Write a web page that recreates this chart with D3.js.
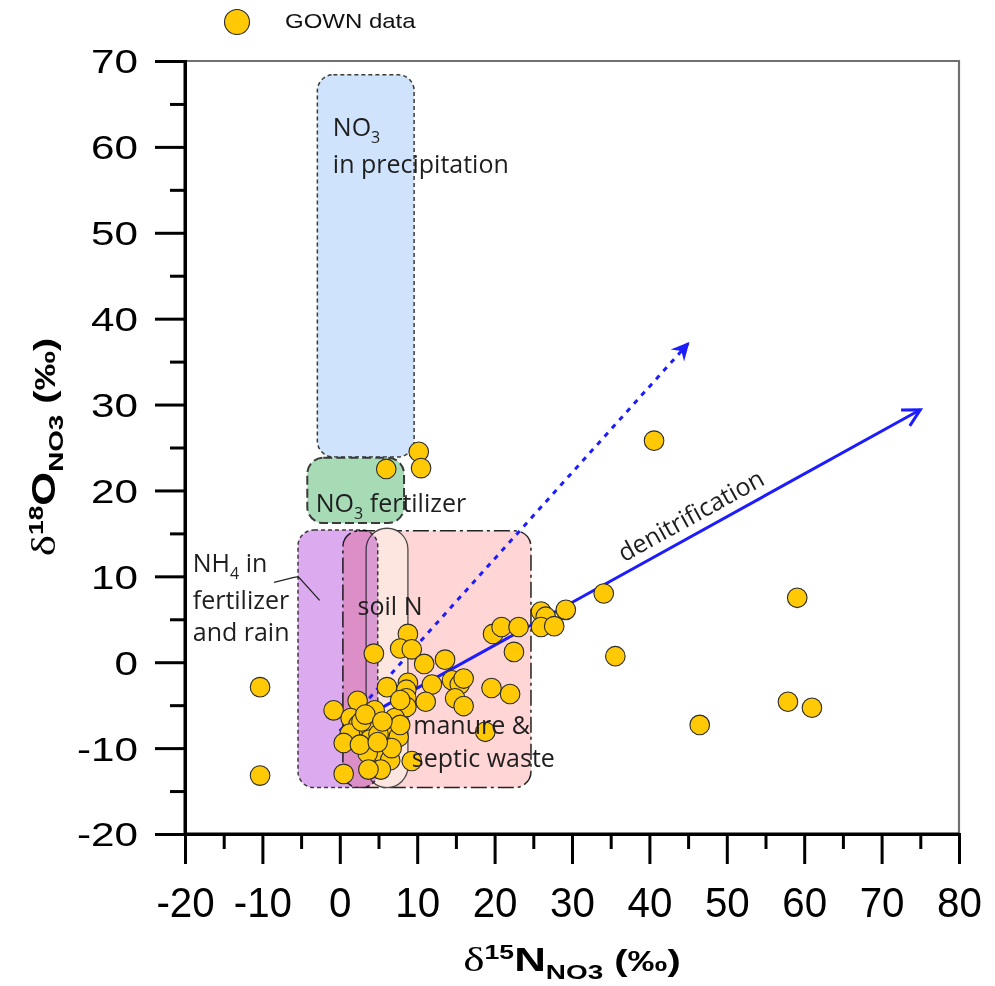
<!DOCTYPE html>
<html>
<head>
<meta charset="utf-8">
<script src="https://cdn.jsdelivr.net/npm/d3@7.9.0/dist/d3.min.js"></script>
<style>
  body { margin: 0; background: #fff; }
  svg { display: block; }
  .tick text { font-family: "Liberation Sans", Arial, sans-serif; }
  .lbl { font-family: "Open Sans", "Noto Sans", sans-serif; font-size: 25px; fill: #1e1e1e; }
</style>
</head>
<body>
<svg id="chart" width="995" height="986"></svg>
<script>
// GOWN samples, d15N and d18O of nitrate (permil)
const gownN = [40.6, 59.1, 35.6, 46.5, 57.9, 61.0, 34.1, 29.2, -10.3, -10.3,
  6.0, 10.2, 10.5, 26.0, 26.6, 26.0, 27.7, 19.8, 20.9, 23.1, 22.5,
  13.6, 14.5, 15.5, 16.0, 14.9, 16.0, 19.6, 22.0, 18.8,
  8.8, 7.8, 9.3, 4.4, 10.9, 6.1, 8.8, 8.6, 8.6, 8.6, 11.9, 11.1,
  2.3, -0.8, 4.5, 1.4, 2.4, 1.3, 0.5, 3.9, 6.1, 7.1, 7.6, 3.9,
  5.2, 3.6, 6.5, 5.3, 3.7, 9.3, 0.5, 7.8, 2.8, 5.0,
  3.3, 5.5, 2.6, 6.7, 4.9, 7.8];
const gownO = [25.8, 7.5, 0.7, -7.3, -4.6, -5.3, 8.0, 6.1, -2.9, -13.2,
  22.5, 24.5, 22.6, 5.9, 5.3, 4.1, 4.2, 3.3, 4.1, 4.1, 1.2,
  0.3, -2.1, -2.6, -1.9, -4.2, -5.1, -3.0, -3.7, -8.1,
  3.3, 1.6, 1.5, 1.0, -0.2, -2.9, -2.4, -3.2, -4.2, -5.2, -2.6, -4.6,
  -4.5, -5.6, -5.6, -6.5, -7.3, -8.3, -9.4, -7.5, -7.8, -6.5, -8.7, -9.0,
  -10.4, -10.6, -11.4, -12.5, -12.5, -11.5, -13.0, -7.3, -6.9, -8.4,
  -6.1, -6.9, -9.6, -10.0, -9.3, -4.4];

const xTicks = [-20, -10, 0, 10, 20, 30, 40, 50, 60, 70, 80];
const yTicks = [-20, -10, 0, 10, 20, 30, 40, 50, 60, 70];

// source fields [N min, N max, O min, O max]
const precipBox = [-2.9, 9.6, 23.9, 68.4];
const no3FertBox = [-4.2, 8.3, 16.2, 23.8];
const nh4Box = [-5.4, 4.9, -14.6, 15.4];
const manureBox = [0.4, 24.7, -14.6, 15.3];
const soilBox = [3.4, 8.8, -14.6, 15.6];

// denitrification trends [start, end]
const denitSolid = [[0, -8], [75, 29.4]];
const denitDotted = [[0, -8], [45, 37.1]];

// leader line for the NH4 label
const nh4Leader = [[-8.5, 9.3], [-5.4, 10.0], [-2.6, 7.2]];

const svg = d3.select('#chart');
const x = d3.scaleLinear().domain([-20, 80]).range([185, 959]);
const y = d3.scaleLinear().domain([-20, 70]).range([834, 61]);
const stretch = 1.28;

const defs = svg.append('defs');
defs.append('marker').attr('id', 'headOpen')
  .attr('markerUnits', 'userSpaceOnUse').attr('viewBox', '-20 -12 24 24')
  .attr('markerWidth', 24).attr('markerHeight', 24).attr('orient', 'auto')
  .append('path').attr('d', 'M-17,-9 L0,0 L-17,9')
  .attr('fill', 'none').attr('stroke', '#1c1cff').attr('stroke-width', 3);
defs.append('marker').attr('id', 'headFill')
  .attr('markerUnits', 'userSpaceOnUse').attr('viewBox', '-20 -12 24 24')
  .attr('markerWidth', 24).attr('markerHeight', 24).attr('orient', 'auto')
  .append('path').attr('d', 'M2,0 L-16,-9 L-10,0 L-16,9 Z')
  .attr('fill', '#1c1cff');

// frame (top / right)
svg.append('path')
  .attr('d', `M${x(-20)},${y(70)} H${x(80)} V${y(-20)}`)
  .attr('fill', 'none').attr('stroke', '#707070').attr('stroke-width', 2.2);

function box(b, fill, dash, stroke, r, sw, blend) {
  const el = svg.append('rect')
    .attr('x', x(b[0])).attr('y', y(b[3]))
    .attr('width', x(b[1]) - x(b[0])).attr('height', y(b[2]) - y(b[3]))
    .attr('rx', r).attr('ry', r)
    .attr('fill', fill).attr('stroke', stroke).attr('stroke-width', sw);
  if (dash) el.attr('stroke-dasharray', dash);
  if (blend) el.style('mix-blend-mode', blend);
  return el;
}

box(precipBox, '#cfe3fc', '4,3', '#3a3a3a', 16, 1.5);
box(no3FertBox, '#a7dbb6', '9,4', '#3a3a3a', 16, 2);
box(manureBox, '#ffd5d5', '16,4,3,4', '#222', 16, 1.5);
box(soilBox, '#fde6e0', null, '#4a4a4a', 21, 1.3);
box(nh4Box, '#dcabef', '4,3', '#3a3a3a', 16, 1.5, 'multiply');

// leader
svg.append('path')
  .attr('d', d3.line().curve(d3.curveBasis)
    .x(d => x(d[0])).y(d => y(d[1]))([nh4Leader[0], nh4Leader[1], nh4Leader[1], nh4Leader[2]]))
  .attr('fill', 'none').attr('stroke', '#222').attr('stroke-width', 1.3);

// axes
const xAxis = svg.append('g').attr('transform', `translate(0,${y(-20)})`)
  .call(d3.axisBottom(x).tickValues(xTicks).tickSize(30).tickFormat(d => String(d)));
svg.append('g').attr('transform', `translate(0,${y(-20)})`)
  .call(d3.axisBottom(x).tickValues(d3.range(-15, 80, 10)).tickSize(15).tickFormat(''));
const yAxis = svg.append('g').attr('transform', `translate(${x(-20)},0)`)
  .call(d3.axisLeft(y).tickValues(yTicks).tickSize(30).tickFormat(d => String(d)));
svg.append('g').attr('transform', `translate(${x(-20)},0)`)
  .call(d3.axisLeft(y).tickValues(d3.range(-15, 70, 10)).tickSize(15).tickFormat(''));

svg.selectAll('.domain').attr('stroke', '#000').attr('stroke-width', 3);
svg.selectAll('.tick line').attr('stroke', '#000').attr('stroke-width', 3);
svg.selectAll('.tick text').attr('fill', '#000');
xAxis.select('.domain').attr('d', `M${x(-20)},0H${x(80)}`);
yAxis.select('.domain').attr('d', `M0,${y(-20)}V${y(70)}`);
xAxis.selectAll('.tick text').attr('font-size', 42).attr('y', 83).attr('dy', 0)
  .attr('transform', 'scale(0.96,1)');
yAxis.selectAll('.tick text').attr('font-size', 33).attr('x', -47 / stretch).attr('dy', '0.36em')
  .attr('transform', `scale(${stretch},1)`);

// trends
svg.append('line')
  .attr('x1', x(denitDotted[0][0])).attr('y1', y(denitDotted[0][1]))
  .attr('x2', x(denitDotted[1][0])).attr('y2', y(denitDotted[1][1]))
  .attr('stroke', '#1c1cff').attr('stroke-width', 3).attr('stroke-dasharray', '5,6')
  .attr('marker-end', 'url(#headFill)');
svg.append('line')
  .attr('x1', x(denitSolid[0][0])).attr('y1', y(denitSolid[0][1]))
  .attr('x2', x(denitSolid[1][0])).attr('y2', y(denitSolid[1][1]))
  .attr('stroke', '#1c1cff').attr('stroke-width', 3)
  .attr('marker-end', 'url(#headOpen)');

// points
svg.append('g').selectAll('circle')
  .data(d3.zip(gownN, gownO))
  .join('circle')
  .attr('cx', d => x(d[0])).attr('cy', d => y(d[1])).attr('r', 9.8)
  .attr('fill', '#ffc906').attr('stroke', '#2b2b2b').attr('stroke-width', 1.1);

// labels
function lbl(px, py, parts) {
  const t = svg.append('text').attr('class', 'lbl').attr('x', px).attr('y', py);
  parts.forEach(p => {
    const s = t.append('tspan').text(p.t);
    if (p.sub) s.attr('font-size', 16).attr('dy', 7);
    if (p.back) s.attr('dy', -7);
  });
  return t;
}
lbl(x(-0.9), y(61.3), [{ t: 'NO' }, { t: '3', sub: true }]);
lbl(x(-0.9), y(57.0), [{ t: 'in precipitation' }]);
lbl(x(-3.1), y(17.5), [{ t: 'NO' }, { t: '3', sub: true }, { t: ' fertilizer', back: true }]);
lbl(x(-19.0), y(10.5), [{ t: 'NH' }, { t: '4', sub: true }, { t: ' in', back: true }]);
lbl(x(-19.0), y(6.2), [{ t: 'fertilizer' }]);
lbl(x(-19.0), y(2.5), [{ t: 'and rain' }]);
lbl(x(2.3), y(5.5), [{ t: 'soil N' }]);
lbl(x(9.5), y(-8.3), [{ t: 'manure &' }]);
lbl(x(9.3), y(-12.2), [{ t: 'septic waste' }]);

const ang = Math.atan2(y(denitSolid[1][1]) - y(denitSolid[0][1]), x(denitSolid[1][0]) - x(denitSolid[0][0])) * 180 / Math.PI;
svg.append('text').attr('class', 'lbl')
  .attr('transform', `translate(${x(45.9)},${y(16.2)}) rotate(${ang})`)
  .attr('text-anchor', 'middle').text('denitrification');

// legend
svg.append('circle').attr('cx', 237).attr('cy', 22).attr('r', 12.5)
  .attr('fill', '#ffc906').attr('stroke', '#2b2b2b').attr('stroke-width', 1.1);
svg.append('text').attr('transform', 'translate(285,28) scale(1.2,1)')
  .attr('font-family', 'Liberation Sans, Arial, sans-serif').attr('font-size', 20)
  .attr('fill', '#111').text('GOWN data');

// axis titles
function title(t, sup, main) {
  t.attr('text-anchor', 'middle')
    .attr('font-family', 'Liberation Sans, Arial, sans-serif').attr('font-weight', 'bold').attr('fill', '#000');
  t.append('tspan').attr('font-family', 'Liberation Serif, serif').attr('font-weight', 'normal').attr('font-size', 34).text('δ');
  t.append('tspan').attr('font-size', 20).attr('dy', -12).text(sup);
  t.append('tspan').attr('font-size', 33).attr('dy', 12).text(main);
  t.append('tspan').attr('font-size', 21).attr('dy', 8).text('NO3');
  t.append('tspan').attr('font-size', 30).attr('dy', -8).text(' (‰)');
}
title(svg.append('text').attr('transform', `translate(572,971) scale(1.33,1)`), '15', 'N');
title(svg.append('text').attr('transform', `translate(55,447) rotate(-90) scale(1.32,1)`), '18', 'O');
</script>
</body>
</html>
